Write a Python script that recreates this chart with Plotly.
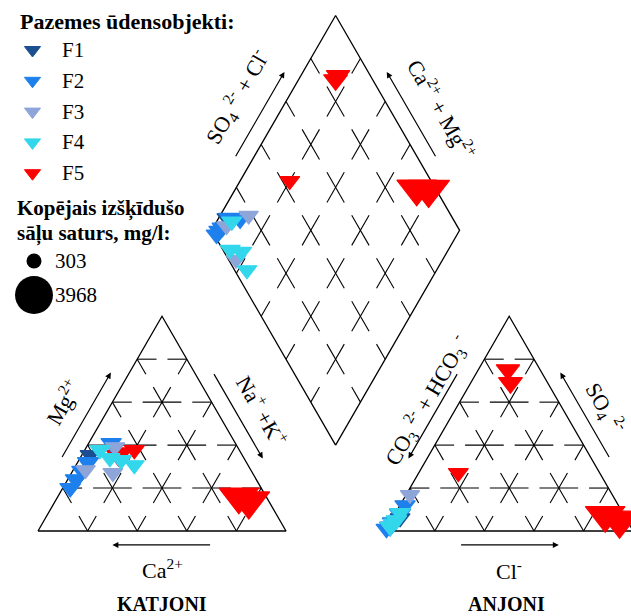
import numpy as np
import plotly.graph_objects as go

# ion shares (% of meq) and total dissolved salts (mg/l) per water body group
groups = ["F1", "F2", "F3", "F4", "F5"]
colors = ["#1c4f8f", "#1e80ec", "#8ea5d9", "#33d7ec", "#ff0000"]

ca = {"F1": [61.3], "F2": [77.0, 72.7, 68.2, 63.8, 50.0], "F3": [49.4, 56.3, 66.6],
      "F4": [56.2, 54.0, 50.0, 45.8], "F5": [48.7, 50.0, 42.3, 11.0, 8.0]}
mg = {"F1": [35.4], "F2": [20.0, 24.0, 28.0, 32.0, 41.0], "F3": [39.1, 27.0, 28.4],
      "F4": [37.7, 34.0, 33.0, 30.7], "F5": [36.3, 35.0, 37.7, 16.0, 14.0]}
nak = {"F1": [3.3], "F2": [3.0, 3.3, 3.8, 4.2, 9.0], "F3": [11.5, 16.7, 5.0],
       "F4": [6.1, 12.0, 17.0, 23.5], "F5": [15.0, 15.0, 20.0, 73.0, 78.0]}
hco3 = {"F1": [91.0], "F2": [99.0, 97.0, 95.0, 90.0, 86.0], "F3": [81.6, 97.0, 93.0],
        "F4": [89.8, 97.0, 93.0, 95.0], "F5": [13.0, 15.0, 57.0, 7.6, 3.0]}
so4 = {"F1": [6.0], "F2": [1.0, 2.0, 4.0, 8.0, 12.0], "F3": [16.8, 2.0, 5.0],
       "F4": [8.4, 2.0, 5.0, 3.5], "F5": [75.0, 69.0, 27.0, 7.4, 5.0]}
cl = {"F1": [3.0], "F2": [0.0, 1.0, 1.0, 2.0, 2.0], "F3": [1.6, 1.0, 2.0],
      "F4": [1.8, 1.0, 2.0, 1.5], "F5": [12.0, 16.0, 16.0, 85.0, 92.0]}
tds = {"F1": [560], "F2": [640, 680, 650, 690, 600], "F3": [520, 560, 540],
       "F4": [600, 580, 620, 560], "F5": [900, 950, 560, 3500, 3968]}
size_legend = [303, 3968]

S3 = np.sqrt(3) / 2
GAP = 0.4
FONT = "Liberation Serif"


def sym_width(t):
    return 6.2 + 0.504 * np.sqrt(np.asarray(t, dtype=float))


def cation_xy(m, n):
    m = np.asarray(m) / 100; n = np.asarray(n) / 100
    return n + m / 2, m * S3


def anion_xy(s, c):
    s = np.asarray(s) / 100; c = np.asarray(c) / 100
    return 1 + GAP + c + s / 2, s * S3


def diamond_xy(n, h):
    u = 1 - np.asarray(n) / 100
    v = 1 - np.asarray(h) / 100
    return 1 + GAP / 2 + 0.5 * (v - u), GAP * S3 + S3 * (u + v)


# geometry
A1, B1, C1 = np.array([0, 0]), np.array([1, 0]), np.array([0.5, S3])
A2, B2, C2 = A1 + [1 + GAP, 0], B1 + [1 + GAP, 0], C1 + [1 + GAP, 0]
D0 = np.array([1 + GAP / 2, GAP * S3])
E1, E2 = np.array([-0.5, S3]), np.array([0.5, S3])
DL, DR, DT = D0 + E1, D0 + E2, D0 + E1 + E2

fig = go.Figure()

outline_x, outline_y = [], []
for poly in [[A1, B1, C1, A1], [A2, B2, C2, A2], [D0, DR, DT, DL, D0]]:
    outline_x += [p[0] for p in poly] + [None]
    outline_y += [p[1] for p in poly] + [None]

grid_x, grid_y = [], []


def dashed(p0, p1, half):
    d = p1 - p0
    L = np.hypot(*d)
    u = d / L
    for k in range(int(round(L / 0.2)) + 1):
        s0 = max(k * 0.2 - half, 0)
        s1 = min(k * 0.2 + half, L)
        a, b = p0 + u * s0, p0 + u * s1
        grid_x.extend([a[0], b[0], None])
        grid_y.extend([a[1], b[1], None])


for k in [0.2, 0.4, 0.6, 0.8]:
    for A, B, C in [(A1, B1, C1), (A2, B2, C2)]:
        dashed(A + k * (C - A), B + k * (C - B), 0.078)
        dashed(A + k * (B - A), C + k * (B - C), 0.07)
        dashed(B + k * (A - B), C + k * (A - C), 0.07)
    dashed(D0 + k * E1, D0 + k * E1 + E2, 0.07)
    dashed(D0 + k * E2, D0 + k * E2 + E1, 0.07)

fig.add_trace(go.Scatter(x=grid_x, y=grid_y, mode="lines",
                         line=dict(color="black", width=1.1), hoverinfo="skip"))
fig.add_trace(go.Scatter(x=outline_x, y=outline_y, mode="lines",
                         line=dict(color="black", width=1.3), hoverinfo="skip"))

# samples (red drawn first, it lies under the others)
order = ["F5", "F1", "F2", "F3", "F4"]
for g in order:
    col = colors[groups.index(g)]
    sz = sym_width(tds[g]) / 1.05
    xs, ys = [], []
    for fx, fy in [cation_xy(mg[g], nak[g]), anion_xy(so4[g], cl[g]),
                   diamond_xy(nak[g], hco3[g])]:
        xs += list(fx); ys += list(fy)
    fig.add_trace(go.Scatter(x=xs, y=ys, mode="markers", name=g,
                             marker=dict(symbol="triangle-down", color=col, opacity=1,
                                         size=list(sz) * 3,
                                         line=dict(width=1.2, color=col))))

# axis labels with arrows
ann = []


def along(P, Q, t, off, nrm):
    return P + t * (Q - P) + off * np.array(nrm)


NL, NR, NB = (-S3, 0.5), (S3, 0.5), (0, -1)
edges = [
    # start, end, normal, arrow tail t, arrow head t, label, label t, label off, angle
    (A1, C1, NL, 0.3, 0.7, "Mg<sup>2+</sup>", 0.5, 0.175, -60),
    (B1, C1, NR, 0.7, 0.3, "Na<sup>+</sup> +K<sup>+</sup>", 0.47, 0.16, 60),
    (A1, B1, NB, 0.7, 0.3, "Ca<sup>2+</sup>", 0.5, 0.153, 0),
    (A2, C2, NL, 0.7, 0.3, "CO<sub>3</sub> <sup>2-</sup> + HCO<sub>3</sub> <sup>-</sup>", 0.54, 0.12, -60),
    (B2, C2, NR, 0.3, 0.7, "SO<sub>4</sub> <sup>2-</sup>", 0.485, 0.15, 60),
    (A2, B2, NB, 0.3, 0.7, "Cl<sup>-</sup>", 0.5, 0.157, 0),
    (DL, DT, NL, 0.3, 0.7, "SO<sub>4</sub> <sup>2-</sup> + Cl<sup>-</sup>", 0.52, 0.18, -60),
    (DR, DT, NR, 0.3, 0.7, "Ca<sup>2+</sup> + Mg<sup>2+</sup>", 0.46, 0.185, 60),
]
for P, Q, nrm, t0, t1, lab, tl, ol, ang in edges:
    off = 0.056 if nrm == NB else 0.065
    tail = along(P, Q, t0, off, nrm)
    head = along(P, Q, t1, off, nrm)
    ann.append(dict(x=head[0], y=head[1], ax=tail[0], ay=tail[1], xref="x", yref="y",
                    axref="x", ayref="y", text="", showarrow=True, arrowhead=2,
                    arrowsize=1, arrowwidth=1.2, arrowcolor="black", standoff=0))
    lp = along(P, Q, tl, ol, nrm)
    ann.append(dict(x=lp[0], y=lp[1], xref="x", yref="y", text=lab, showarrow=False,
                    textangle=ang, font=dict(family=FONT, size=22, color="black")))

for name, cx in [("KATJONI", 0.5), ("ANJONI", 1.4 + 0.49)]:
    ann.append(dict(x=cx, y=-0.295, xref="x", yref="y", text="<b>%s</b>" % name,
                    showarrow=False, font=dict(family=FONT, size=20, color="black")))

# legend drawn on a pixel overlay axis
leg_y = [50 + 30.8 * i for i in range(len(groups))]
fig.add_trace(go.Scatter(x=[32.5] * len(groups), y=leg_y, mode="markers",
                         xaxis="x2", yaxis="y2",
                         marker=dict(symbol="triangle-down", color=colors, size=14,
                                     opacity=1, line=dict(width=1, color=colors))))
for g, yy in zip(groups, leg_y):
    ann.append(dict(x=60, y=yy, xref="x2", yref="y2", text=g, showarrow=False,
                    xanchor="left", font=dict(family=FONT, size=21, color="black")))
circ_y = [261, 295]
fig.add_trace(go.Scatter(x=[34, 34], y=circ_y, mode="markers", xaxis="x2", yaxis="y2",
                         marker=dict(symbol="circle", color="black", opacity=1,
                                     size=list(sym_width(size_legend)), line=dict(width=0))))
for v, yy in zip(size_legend, circ_y):
    ann.append(dict(x=53, y=yy, xref="x2", yref="y2", text=str(v), showarrow=False,
                    xanchor="left", font=dict(family=FONT, size=21, color="black")))
for txt, xx, yy, fs in [("Pazemes ūdensobjekti:", 18, 21, 22),
                        ("Kopējais izšķīdušo", 15, 208, 21),
                        ("sāļu saturs, mg/l:", 15, 233, 21)]:
    ann.append(dict(x=xx, y=yy, xref="x2", yref="y2", text="<b>%s</b>" % txt,
                    showarrow=False, xanchor="left",
                    font=dict(family=FONT, size=fs, color="black")))

fig.update_layout(
    width=631, height=616, margin=dict(l=0, r=0, t=0, b=0),
    paper_bgcolor="white", plot_bgcolor="white", showlegend=False,
    xaxis=dict(range=[-38 / 248, (631 - 38) / 248], visible=False, fixedrange=True),
    yaxis=dict(range=[(531 - 616) / 248, 531 / 248], visible=False, fixedrange=True),
    xaxis2=dict(range=[0, 631], overlaying="x", visible=False, fixedrange=True),
    yaxis2=dict(range=[616, 0], overlaying="y", visible=False, fixedrange=True),
    annotations=ann,
)

fig.write_html("out.html", config={"displayModeBar": False},
               post_script="document.body.style.margin='0';")
